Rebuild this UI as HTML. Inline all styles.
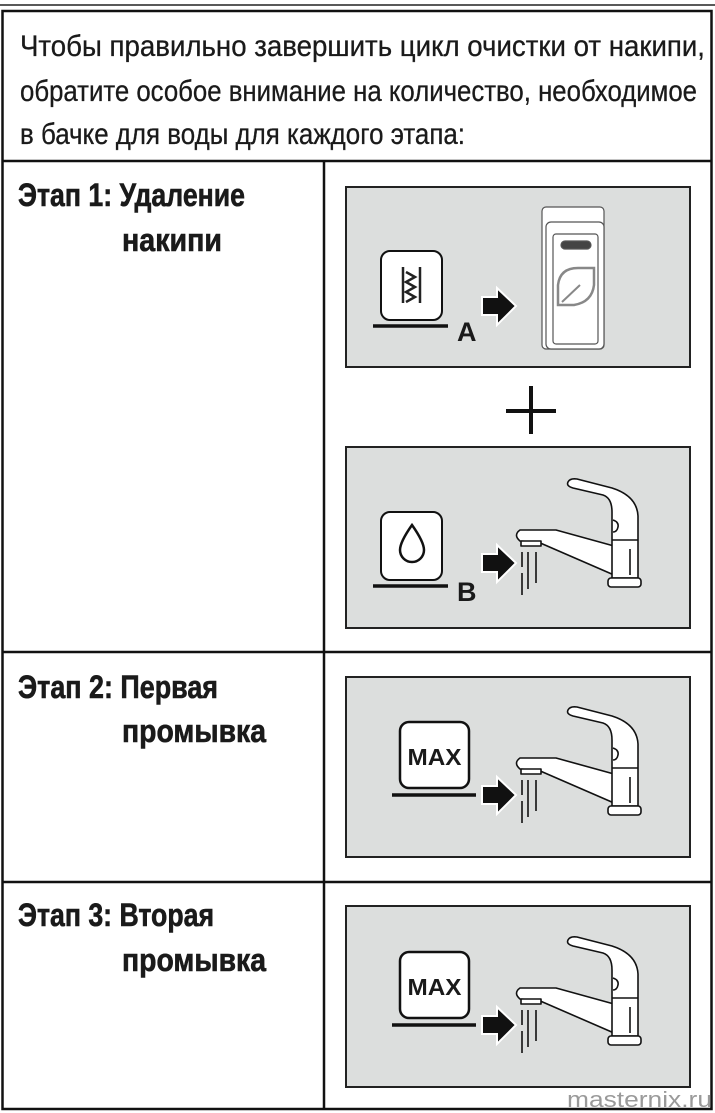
<!DOCTYPE html>
<html><head><meta charset="utf-8"><style>
html,body{margin:0;padding:0;background:#fff;}
svg{display:block;}
text{font-family:"Liberation Sans",sans-serif;fill:#1a1a1a;}
</style></head><body>
<svg width="715" height="1113" viewBox="0 0 715 1113" xmlns="http://www.w3.org/2000/svg">
<defs>
<g id="faucet" fill="#fff" stroke="#111" stroke-width="1.6" stroke-linejoin="round">
  <path d="M614,546 L556,530 L520,530 Q513,535 520,541 L538,542 L614,575 Z"/>
  <rect x="521" y="541" width="20" height="5"/>
  <path d="M612,578 L612,512 Q612,498 603,495 L573,488 Q566,486 568,482 Q570,478 577,479 L612,488 Q637,496 638,516 L638,578 Z"/>
  <path d="M613,520 Q619,522 618,527 Q617,532 613,532" fill="none"/>
  <line x1="612" y1="540" x2="638" y2="540"/>
  <line x1="630" y1="549" x2="630" y2="575"/>
  <rect x="608" y="578" width="33" height="9" rx="3"/>
  <line x1="522" y1="552" x2="522" y2="567"/><line x1="522" y1="573" x2="522" y2="595"/>
  <line x1="528" y1="552" x2="528" y2="589"/>
  <line x1="536" y1="552" x2="536" y2="583"/>
</g>
<g id="arrow">
  <path d="M482,297 L497,297 L497,288 L516,306 L497,325 L497,315 L482,315 Z" fill="#111" stroke="#fff" stroke-width="2"/>
</g>
</defs>

<line x1="0" y1="5" x2="715" y2="5" stroke="#222" stroke-width="1.5"/>
<rect x="2.5" y="11" width="709" height="1098" fill="none" stroke="#111" stroke-width="2.5"/>
<line x1="2" y1="161" x2="712" y2="161" stroke="#111" stroke-width="2.5"/>
<line x1="324" y1="161" x2="324" y2="1110" stroke="#111" stroke-width="2.5"/>
<line x1="2" y1="652" x2="712" y2="652" stroke="#111" stroke-width="2.5"/>
<line x1="2" y1="882" x2="712" y2="882" stroke="#111" stroke-width="2.5"/>

<g font-size="30" stroke="#1a1a1a" stroke-width="0.3">
<text x="20" y="56" textLength="685" lengthAdjust="spacingAndGlyphs">Чтобы правильно завершить цикл очистки от накипи,</text>
<text x="20" y="101" textLength="677" lengthAdjust="spacingAndGlyphs">обратите особое внимание на количество, необходимое</text>
<text x="20" y="144" textLength="445" lengthAdjust="spacingAndGlyphs">в бачке для воды для каждого этапа:</text>
</g>

<g font-weight="bold" font-size="32" stroke="#1a1a1a" stroke-width="0.6">
<text x="18" y="206" textLength="227" lengthAdjust="spacingAndGlyphs">Этап 1: Удаление</text>
<text x="122" y="251" textLength="100" lengthAdjust="spacingAndGlyphs">накипи</text>
<text x="18" y="698" textLength="200" lengthAdjust="spacingAndGlyphs">Этап 2: Первая</text>
<text x="122" y="742" textLength="144" lengthAdjust="spacingAndGlyphs">промывка</text>
<text x="18" y="926" textLength="196" lengthAdjust="spacingAndGlyphs">Этап 3: Вторая</text>
<text x="122" y="971" textLength="144" lengthAdjust="spacingAndGlyphs">промывка</text>
</g>

<g fill="#dcdedd" stroke="#222" stroke-width="2">
<rect x="346" y="187" width="344" height="180"/>
<rect x="346" y="447" width="344" height="181"/>
<rect x="346" y="677" width="344" height="180"/>
<rect x="346" y="906" width="344" height="181"/>
</g>

<g stroke="#111" stroke-width="4"><line x1="506" y1="411" x2="556" y2="411"/><line x1="531" y1="386" x2="531" y2="434"/></g>

<rect x="381" y="251" width="61" height="69" rx="9" fill="#fff" stroke="#111" stroke-width="2"/>
<g fill="none" stroke="#222" stroke-width="2.5"><line x1="403" y1="267" x2="403" y2="303"/><line x1="420" y1="267" x2="420" y2="303"/><path d="M406,272 l9,5 -9,5 9,5 -9,5 9,5 -9,5"/></g>
<line x1="373" y1="326" x2="448" y2="326" stroke="#111" stroke-width="3.5"/>
<text x="457" y="341" font-size="27" font-weight="bold" fill="#111">A</text>
<use href="#arrow"/>
<g fill="#fff" stroke="#555" stroke-width="1.2">
<rect x="542" y="207" width="62" height="142" rx="4"/>
<rect x="546" y="222" width="58" height="127" rx="5"/>
<rect x="553" y="234" width="45" height="110" rx="3"/>
<rect x="561" y="241" width="30" height="8" rx="4" fill="#444"/>
<path d="M558,305 L558,285 Q560,268 578,268 L594,268 L594,285 Q592,302 574,305 Z" fill="none" stroke="#888" stroke-width="2.5"/>
<line x1="562" y1="302" x2="580" y2="285" stroke="#888" stroke-width="2"/>
</g>

<rect x="381" y="512" width="61" height="68" rx="9" fill="#fff" stroke="#111" stroke-width="2"/>
<path d="M412,525 Q424,542 424,550 A12,12 0 0 1 400,550 Q400,542 412,525 Z" fill="none" stroke="#111" stroke-width="2.5"/>
<line x1="373" y1="586" x2="448" y2="586" stroke="#111" stroke-width="3.5"/>
<text x="457" y="601" font-size="27" font-weight="bold" fill="#111">B</text>
<use href="#arrow" transform="translate(0,257)"/>
<use href="#faucet"/>

<rect x="400" y="722" width="69" height="66" rx="9" fill="#fff" stroke="#111" stroke-width="2.5"/>
<text x="434.5" y="765" font-size="23" font-weight="bold" text-anchor="middle" fill="#222" textLength="54" lengthAdjust="spacingAndGlyphs">MAX</text>
<line x1="392" y1="795" x2="476" y2="795" stroke="#111" stroke-width="3.5"/>
<use href="#arrow" transform="translate(0,489)"/>
<use href="#faucet" transform="translate(0,228)"/>

<rect x="400" y="952" width="69" height="66" rx="9" fill="#fff" stroke="#111" stroke-width="2.5"/>
<text x="434.5" y="995" font-size="23" font-weight="bold" text-anchor="middle" fill="#222" textLength="54" lengthAdjust="spacingAndGlyphs">MAX</text>
<line x1="392" y1="1025" x2="476" y2="1025" stroke="#111" stroke-width="3.5"/>
<use href="#arrow" transform="translate(0,719)"/>
<use href="#faucet" transform="translate(0,458)"/>

<text x="567" y="1107" font-size="22" style="fill:#9a9a9a" textLength="145" lengthAdjust="spacingAndGlyphs">masternix.ru</text>
</svg>
</body></html>
